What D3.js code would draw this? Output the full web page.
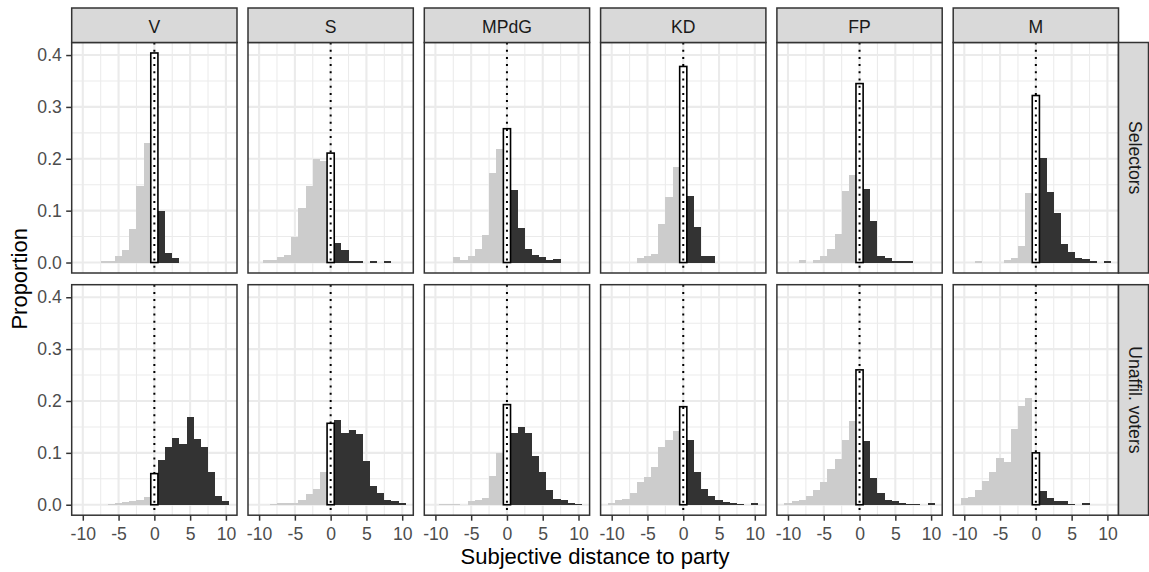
<!DOCTYPE html>
<html>
<head>
<meta charset="utf-8">
<script src="https://cdn.jsdelivr.net/npm/d3@7"></script>
<style>
  body { margin: 0; background: #fff; }
  svg { display: block; font-family: "Liberation Sans", Arial, sans-serif; }
</style>
</head>
<body>
<svg id="chart" width="1149" height="572"></svg>
<script>
// Facet labels
const parties = ["V", "S", "MPdG", "KD", "FP", "M"];
const groups = ["Selectors", "Unaffil. voters"];

// Histogram bins: subjective distance -10 … 10 (bin width 1)
const distances = d3.range(-10, 11);
const xTicks = [-10, -5, 0, 5, 10];
const yTicks = [0, 0.1, 0.2, 0.3, 0.4];

// Proportions per distance bin, Selectors
const selV     = [0,0,0,0.003,0.003,0.012,0.024,0.064,0.148,0.230,0.404,0.100,0.019,0.008,0,0,0,0,0,0,0];
const selS     = [0,0.004,0.005,0.011,0.015,0.049,0.106,0.147,0.199,0.195,0.211,0.038,0.024,0.003,0.003,0,0.003,0,0.003,0,0];
const selMPdG  = [0,0,0,0.010,0.005,0.012,0.027,0.053,0.173,0.218,0.258,0.139,0.066,0.027,0.014,0.010,0.004,0.006,0,0,0];
const selKD    = [0,0,0,0,0.008,0.012,0.016,0.075,0.127,0.184,0.378,0.129,0.069,0.013,0.013,0,0,0,0,0,0];
const selFP    = [0,0,0.004,0,0.005,0.012,0.027,0.055,0.138,0.168,0.345,0.141,0.080,0.013,0.009,0.003,0.003,0.003,0,0,0];
const selM     = [0,0,0.003,0,0,0,0.005,0.008,0.032,0.135,0.322,0.202,0.136,0.096,0.035,0.021,0.009,0.006,0.003,0,0.003];

// Proportions per distance bin, unaffiliated voters
const unaV     = [0,0,0,0,0.002,0.003,0.005,0.007,0.010,0.015,0.060,0.087,0.111,0.128,0.118,0.169,0.127,0.111,0.063,0.017,0.007];
const unaS     = [0,0,0.002,0.003,0.003,0.004,0.009,0.020,0.031,0.064,0.157,0.164,0.139,0.145,0.136,0.084,0.037,0.023,0.009,0.007,0.004];
const unaMPdG  = [0,0.002,0.002,0.002,0,0.008,0.010,0.012,0.055,0.100,0.193,0.139,0.150,0.139,0.093,0.063,0.028,0.011,0.009,0.004,0.002];
const unaKD    = [0.004,0.009,0.011,0.023,0.043,0.054,0.073,0.111,0.124,0.143,0.189,0.124,0.064,0.030,0.017,0.009,0.005,0.004,0.002,0,0.003];
const unaFP    = [0.004,0.007,0.009,0.016,0.028,0.043,0.068,0.089,0.124,0.161,0.260,0.123,0.052,0.023,0.009,0.007,0.004,0.002,0.002,0,0.004];
const unaM     = [0.013,0.015,0.028,0.046,0.063,0.091,0.082,0.146,0.191,0.206,0.100,0.027,0.012,0.007,0.007,0.002,0,0.003,0,0,0];

const seriesByGroup = [
  [selV, selS, selMPdG, selKD, selFP, selM],
  [unaV, unaS, unaMPdG, unaKD, unaFP, unaM]
];

// Layout
const left0 = 71.7, top0 = 8;
const stripH = 34.5, panelW = 165.3, panelH = 230.5;
const gapX = 11, gapY = 11.7, rightStripW = 30;

const svg = d3.select("#chart");

// Shared scales (ggplot-style 5% expansion)
const xLo = d3.min(distances) - 0.5, xHi = d3.max(distances) + 0.5;
const xPad = (xHi - xLo) * 0.05;
const x = d3.scaleLinear().domain([xLo - xPad, xHi + xPad]).range([0, panelW]);
const yMax = d3.max(seriesByGroup.flat(2));
const y = d3.scaleLinear().domain([-0.05 * yMax, 1.05 * yMax]).range([panelH, 0]);

const xMinor = [-7.5, -2.5, 2.5, 7.5];
const yMinor = [0.05, 0.15, 0.25, 0.35];

const panelX = c => left0 + c * (panelW + gapX);
const panelY = r => top0 + stripH + r * (panelH + gapY);

groups.forEach((grp, r) => {
  parties.forEach((party, c) => {
    const g = svg.append("g").attr("transform", `translate(${panelX(c)},${panelY(r)})`);

    g.append("rect").attr("width", panelW).attr("height", panelH).attr("fill", "#fff");

    // minor grid
    g.selectAll(".vmin").data(xMinor).join("line")
      .attr("x1", d => x(d)).attr("x2", d => x(d)).attr("y1", 0).attr("y2", panelH)
      .attr("stroke", "#EBEBEB").attr("stroke-width", 1.07);
    g.selectAll(".hmin").data(yMinor).join("line")
      .attr("y1", d => y(d)).attr("y2", d => y(d)).attr("x1", 0).attr("x2", panelW)
      .attr("stroke", "#EBEBEB").attr("stroke-width", 1.07);
    // major grid
    g.selectAll(".vmaj").data(xTicks).join("line")
      .attr("x1", d => x(d)).attr("x2", d => x(d)).attr("y1", 0).attr("y2", panelH)
      .attr("stroke", "#EBEBEB").attr("stroke-width", 2.1);
    g.selectAll(".hmaj").data(yTicks).join("line")
      .attr("y1", d => y(d)).attr("y2", d => y(d)).attr("x1", 0).attr("x2", panelW)
      .attr("stroke", "#EBEBEB").attr("stroke-width", 2.1);

    // histogram bars
    const vals = seriesByGroup[r][c];
    const bins = distances.map((d, i) => ({ d, v: vals[i] })).filter(b => b.v > 0);
    g.selectAll(".bar").data(bins.filter(b => b.d !== 0)).join("rect")
      .attr("x", b => x(b.d - 0.5))
      .attr("width", b => x(b.d + 0.5) - x(b.d - 0.5))
      .attr("y", b => y(b.v))
      .attr("height", b => y(0) - y(b.v))
      .attr("fill", b => b.d < 0 ? "#CCCCCC" : "#333333")
      .attr("shape-rendering", "crispEdges");
    g.selectAll(".zero").data(bins.filter(b => b.d === 0)).join("rect")
      .attr("x", b => x(b.d - 0.5))
      .attr("width", b => x(b.d + 0.5) - x(b.d - 0.5))
      .attr("y", b => y(b.v))
      .attr("height", b => y(0) - y(b.v))
      .attr("fill", "#fff").attr("stroke", "#000").attr("stroke-width", 1.6);

    // reference line at distance 0
    g.append("line")
      .attr("x1", x(0)).attr("x2", x(0)).attr("y1", 0).attr("y2", panelH)
      .attr("stroke", "#000").attr("stroke-width", 2).attr("stroke-dasharray", "2,5.2");

    // panel border
    g.append("rect").attr("width", panelW).attr("height", panelH)
      .attr("fill", "none").attr("stroke", "#333333").attr("stroke-width", 1.5);

    // top strips
    if (r === 0) {
      const s = svg.append("g").attr("transform", `translate(${panelX(c)},${top0})`);
      s.append("rect").attr("width", panelW).attr("height", stripH)
        .attr("fill", "#D9D9D9").attr("stroke", "#333333").attr("stroke-width", 1.5);
      s.append("text").attr("x", panelW / 2).attr("y", 25)
        .attr("text-anchor", "middle").attr("font-size", 17.6).attr("fill", "#1A1A1A")
        .text(party);
    }

    // y axis on first column
    if (c === 0) {
      const ax = g.append("g").call(d3.axisLeft(y).tickValues(yTicks)
        .tickFormat(d3.format(".1f")).tickSize(5.5).tickPadding(4.4));
      ax.select(".domain").remove();
      ax.selectAll("line").attr("stroke", "#333333").attr("stroke-width", 1.5);
      ax.selectAll("text").attr("font-size", 17.6).attr("fill", "#4D4D4D")
        .attr("font-family", "Liberation Sans, Arial, sans-serif");
    }
    // x axis on bottom row (plain hyphen for negatives)
    if (r === groups.length - 1) {
      const ax = g.append("g").attr("transform", `translate(0,${panelH})`)
        .call(d3.axisBottom(x).tickValues(xTicks).tickFormat(d => String(d))
          .tickSize(5.5).tickPadding(4.4));
      ax.select(".domain").remove();
      ax.selectAll("line").attr("stroke", "#333333").attr("stroke-width", 1.5);
      ax.selectAll("text").attr("font-size", 17.6).attr("fill", "#4D4D4D")
        .attr("font-family", "Liberation Sans, Arial, sans-serif").attr("dy", "0.82em");
    }
  });

  // right strip
  const rx = panelX(parties.length - 1) + panelW;
  const rs = svg.append("g").attr("transform", `translate(${rx},${panelY(r)})`);
  rs.append("rect").attr("width", rightStripW).attr("height", panelH)
    .attr("fill", "#D9D9D9").attr("stroke", "#333333").attr("stroke-width", 1.5);
  rs.append("text")
    .attr("transform", `translate(10.2,${panelH / 2}) rotate(90)`)
    .attr("text-anchor", "middle").attr("font-size", 17.6).attr("fill", "#1A1A1A")
    .text(grp);
});

// axis titles
const plotLeft = panelX(0), plotRight = panelX(parties.length - 1) + panelW;
svg.append("text")
  .attr("x", (plotLeft + plotRight) / 2).attr("y", 563.5)
  .attr("text-anchor", "middle").attr("font-size", 22).attr("fill", "#000")
  .text("Subjective distance to party");
svg.append("text")
  .attr("transform", `translate(27,${(panelY(0) + panelY(1) + panelH) / 2}) rotate(-90)`)
  .attr("text-anchor", "middle").attr("font-size", 22).attr("fill", "#000")
  .text("Proportion");
</script>
</body>
</html>
